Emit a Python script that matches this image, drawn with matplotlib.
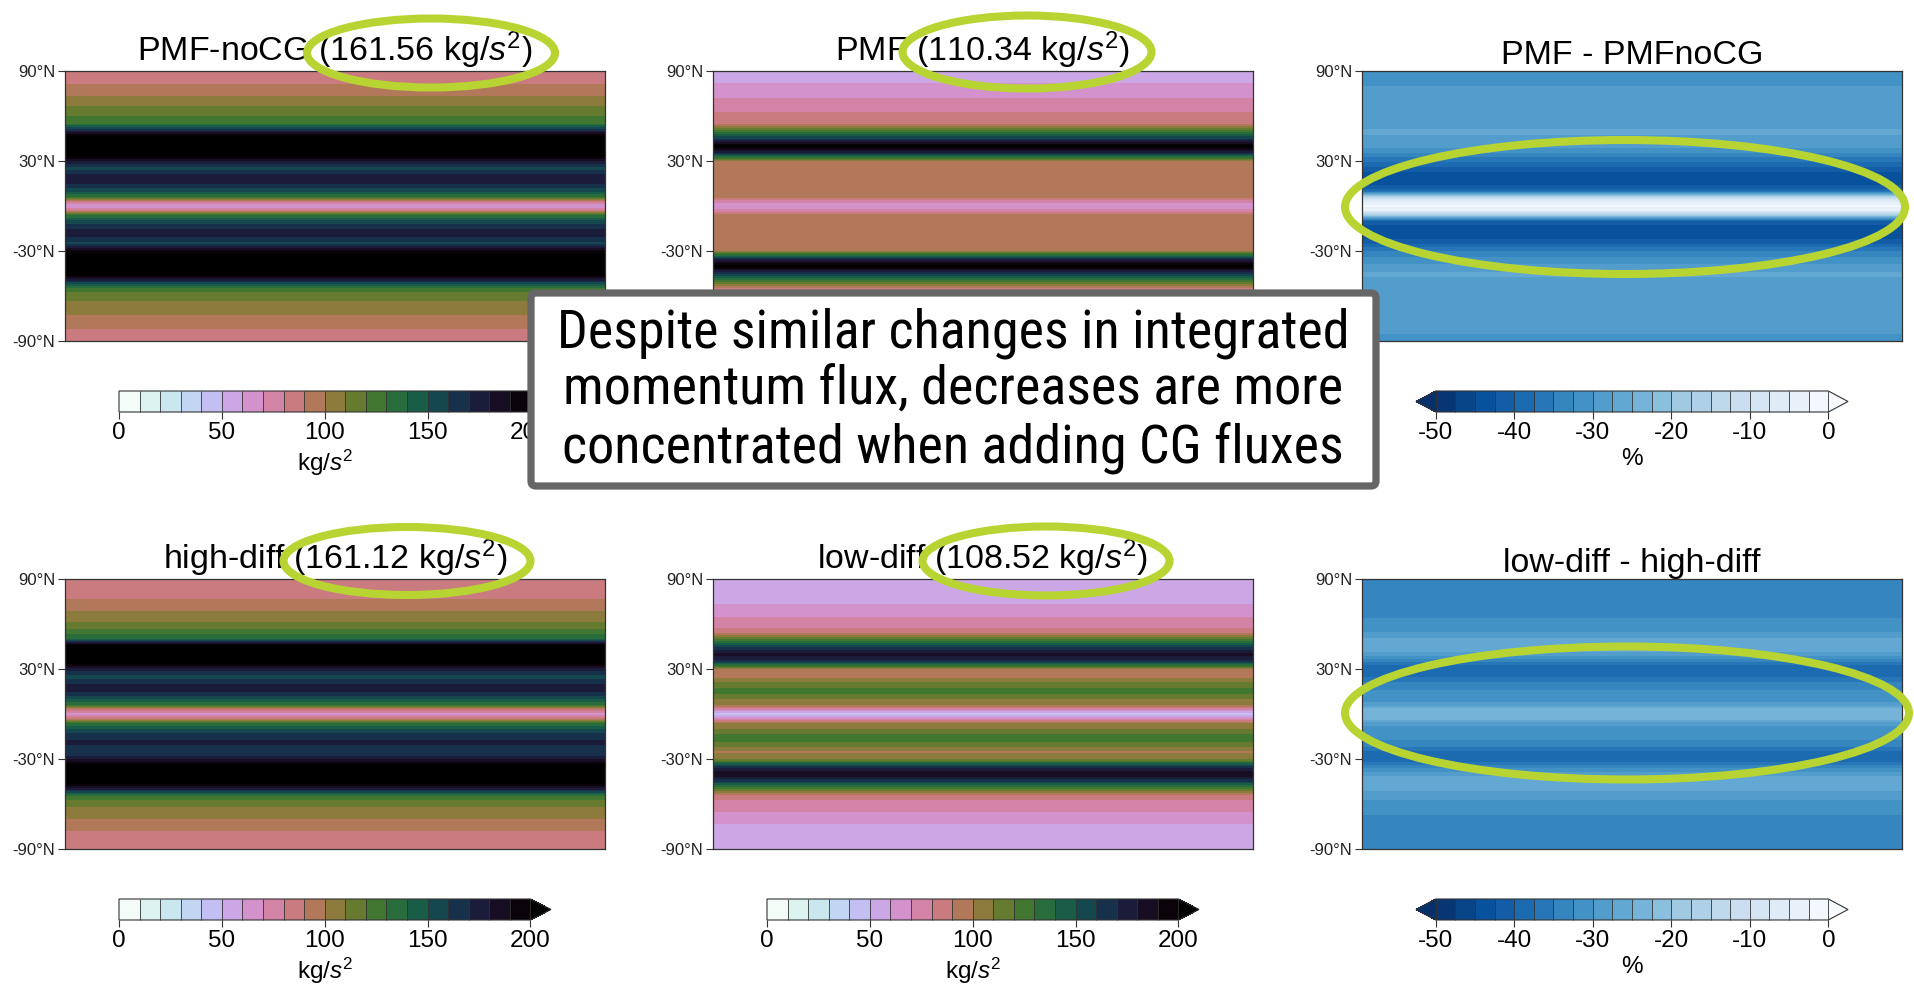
import numpy as np
import matplotlib
matplotlib.use("Agg")
import matplotlib.pyplot as plt
from matplotlib.patches import Ellipse, FancyBboxPatch

plt.rcParams['font.family'] = ['Liberation Sans', 'DejaVu Sans']
plt.rcParams['mathtext.fontset'] = 'custom'
plt.rcParams['mathtext.rm'] = 'Liberation Sans'
plt.rcParams['mathtext.it'] = 'Liberation Sans:italic'
plt.rcParams['mathtext.bf'] = 'Liberation Sans:bold'
plt.rcParams['axes.unicode_minus'] = False

# ---------------- data (zonal profiles) ----------------
lat_nodes = [-90, -85, -80, -75, -70, -65, -60, -55, -50, -45, -40, -35, -30,
             -25, -20, -15, -10, -6, -3, 0, 3, 6, 10, 15, 20, 25, 30, 35, 40,
             45, 50, 55, 60, 65, 70, 75, 80, 85, 90]
lon_nodes = [-180, 180]

flux_pmf_nocg = [85, 86, 92, 97, 104, 108, 113, 125, 168, 215, 230, 215, 195,
                 158, 172, 170, 152, 130, 85, 62, 85, 130, 152, 172, 175, 155, 178, 215, 230,
                 215, 172, 130, 120, 112, 105, 98, 92, 86, 84]
flux_pmf = [53, 57, 62, 66, 73, 77, 84, 88, 125, 160, 205, 165, 100,
            95, 96, 97, 96, 93, 75, 62, 75, 93, 96, 97, 96, 95, 100, 165, 205,
            160, 125, 88, 84, 77, 73, 66, 62, 57, 53]
flux_high_diff = [80, 84, 88, 93, 100, 106, 113, 125, 175, 215, 230, 212, 178,
                  160, 172, 168, 150, 130, 85, 64, 85, 130, 150, 172, 170, 155, 175, 215, 230,
                  215, 140, 125, 112, 105, 98, 92, 87, 83, 80]
flux_low_diff = [52, 53, 55, 58, 65, 70, 75, 85, 120, 160, 190, 165, 108,
                 98, 118, 125, 110, 100, 70, 45, 70, 100, 110, 125, 115, 95, 100, 165, 185,
                 160, 120, 85, 75, 70, 65, 58, 55, 53, 52]
pct_pmf_vs_nocg = [-31, -30, -29, -30, -29, -30, -29, -28, -28, -27, -29, -32, -35,
                   -40, -44, -45, -40, -18, -5, -2, -5, -15, -38, -44, -44, -41, -37, -33, -29,
                   -28, -27, -29, -28, -29, -30, -29, -30, -30, -31]
pct_low_vs_high = [-33, -34, -33, -35, -33, -32, -31, -29, -27, -26, -28, -34, -40,
                   -38, -33, -32, -32, -28, -24, -23, -24, -28, -32, -32, -34, -38, -40, -35, -28,
                   -26, -27, -30, -31, -33, -34, -33, -34, -33, -33]

titles = ['PMF-noCG (161.56 kg/$s^2$)', 'PMF (110.34 kg/$s^2$)', 'PMF - PMFnoCG',
          'high-diff (161.12 kg/$s^2$)', 'low-diff (108.52 kg/$s^2$)', 'low-diff - high-diff']
fields = [flux_pmf_nocg, flux_pmf, pct_pmf_vs_nocg,
          flux_high_diff, flux_low_diff, pct_low_vs_high]
kinds = ['flux', 'flux', 'pct', 'flux', 'flux', 'pct']

flux_levels = np.arange(0, 201, 10)
pct_levels = np.arange(-50, 0.01, 2.5)
flux_ticks = [0, 50, 100, 150, 200]
pct_ticks = [-50, -40, -30, -20, -10, 0]
lat_ticks = [90, 30, -30, -90]
lat_ticklabels = ['90°N', '30°N', '-30°N', '-90°N']
note = ("Despite similar changes in integrated\n"
        "momentum flux, decreases are more\n"
        "concentrated when adding CG fluxes")

# ---------------- layout ----------------
W, H = 1915, 989
fig = plt.figure(figsize=(W / 100, H / 100), dpi=100)

col_x = [65, 713, 1362]
row_top = [71, 579]
ax_w, ax_h = 540, 270
cb_top = [391, 899]
cb_dx, cb_w, cb_h = 54, 432, 21

lat = np.array(lat_nodes)
lon = np.array(lon_nodes)
dark = '#333333'

for i, (title, vals, kind) in enumerate(zip(titles, fields, kinds)):
    r, c = divmod(i, 3)
    x0, y0 = col_x[c], row_top[r]
    ax = fig.add_axes([x0 / W, 1 - (y0 + ax_h) / H, ax_w / W, ax_h / H])
    Z = np.repeat(np.array(vals, dtype=float)[:, None], len(lon), axis=1)
    if kind == 'flux':
        cs = ax.contourf(lon, lat, Z, levels=flux_levels, cmap='cubehelix_r', extend='max')
        ext, ticks, lab = 'max', flux_ticks, 'kg/$s^2$'
    else:
        cs = ax.contourf(lon, lat, Z, levels=pct_levels, cmap='Blues_r', extend='both')
        ext, ticks, lab = 'both', pct_ticks, '%'
    ax.set_xlim(-180, 180)
    ax.set_ylim(-90, 90)
    ax.set_xticks([])
    ax.set_yticks(lat_ticks)
    ax.set_yticklabels(lat_ticklabels)
    ax.tick_params(axis='y', labelsize=12, length=5, width=0.8, color=dark, labelcolor='#222222', pad=2)
    for s in ax.spines.values():
        s.set_color(dark)
        s.set_linewidth(0.9)
    ax.set_title(title, fontsize=24.5, pad=4)

    cax = fig.add_axes([(x0 + cb_dx) / W, 1 - (cb_top[r] + cb_h) / H, cb_w / W, cb_h / H])
    cb = fig.colorbar(cs, cax=cax, orientation='horizontal', extend=ext, drawedges=True)
    cb.set_ticks(ticks)
    cb.ax.tick_params(labelsize=17.5, length=5, width=0.8, color=dark, pad=2)
    cb.set_label(lab, fontsize=17.5, labelpad=3)
    cb.outline.set_edgecolor(dark)
    cb.outline.set_linewidth(0.8)
    cb.dividers.set_color(dark)
    cb.dividers.set_linewidth(0.6)

# ---------------- overlay: annotation box and highlight ellipses ----------------
ov = fig.add_axes([0, 0, 1, 1], zorder=50)
ov.set_xlim(0, W)
ov.set_ylim(H, 0)
ov.axis('off')
ov.patch.set_alpha(0)

green = '#b8d433'
for (cx, cy, ew, eh) in [(431, 53, 248, 69), (1027, 52, 249, 73), (1625, 207, 560, 134),
                         (407, 561, 247, 68), (1046, 561, 247, 69), (1627, 713, 564, 133)]:
    ov.add_patch(Ellipse((cx, cy), ew, eh, fill=False, ec=green, lw=5.8))

ov.add_patch(FancyBboxPatch((531, 293), 845, 193,
                            boxstyle='round,pad=0,rounding_size=5',
                            fc='white', ec='#666666', lw=5.2))
ov.text(953, 391, note, ha='center', va='center', fontsize=39,
        family=['Roboto Condensed', 'Liberation Sans Narrow', 'Liberation Sans'],
        linespacing=1.16, color='black')

fig.savefig('out.png', dpi=100)
